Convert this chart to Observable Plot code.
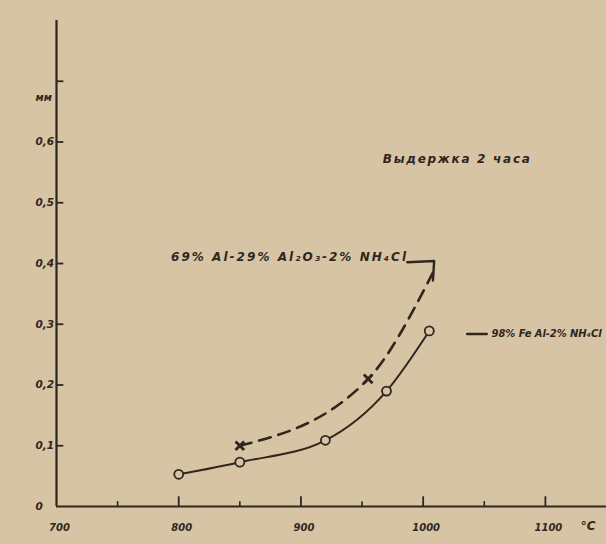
<!DOCTYPE html>
<html>
<head>
<meta charset="utf-8">
<script src="https://cdn.jsdelivr.net/npm/d3@7"></script>
<script src="https://cdn.jsdelivr.net/npm/@observablehq/plot@0.6"></script>
<style>
  html, body { margin: 0; padding: 0; background: #d6c4a5; }
  #chart svg { display: block; }
</style>
</head>
<body>
<div id="chart"></div>
<script>
// ---- data ----
const tempSolid  = [800, 850, 920, 970, 1005];          // °C, open circles
const depthSolid = [0.053, 0.073, 0.109, 0.19, 0.289];  // mm
const tempDashed  = [850, 955, 1008];                   // °C, dashed curve (x markers on first two)
const depthDashed = [0.10, 0.21, 0.385];                // mm
const markedDashed = 2;                                  // number of "x" markers
const leaderT = [987, 1009, 1008];                       // leader arrow for dashed label
const leaderD = [0.402, 0.404, 0.372];
const leaderSolidT = [1036, 1052];                       // leader dash for solid label
const leaderSolidD = [0.284, 0.284];
const xMajor = [800, 900, 1000, 1100];
const xMinor = [750, 850, 950, 1050];
const xLabels = [700, 800, 900, 1000, 1100];
const yTicks = [0.1, 0.2, 0.3, 0.4, 0.5, 0.6, 0.7];
const yLabels = [0, 0.1, 0.2, 0.3, 0.4, 0.5, 0.6];
const labelSolid = "98% Fe Al-2% NH₄Cl";
const labelDashed = "69% Al-29% Al₂O₃-2% NH₄Cl";
const labelTitle = "Выдержка 2 часа";
const unitY = "мм";
const unitX = "°C";

const bg = "#d6c4a5";
const ink = "#2f261e";
const font = "'DejaVu Sans', sans-serif";

const solid = tempSolid.map((t, i) => ({t, d: depthSolid[i]}));
const dashed = tempDashed.map((t, i) => ({t, d: depthDashed[i]}));
const leader = leaderT.map((t, i) => ({t, d: leaderD[i]}));
const leaderSolid = leaderSolidT.map((t, i) => ({t, d: leaderSolidD[i]}));

const txt = {fill: ink, fontWeight: "bold", fontStyle: "italic", fontFamily: font};

const chart = Plot.plot({
  width: 606,
  height: 544,
  marginLeft: 56,
  marginRight: 0,
  marginTop: 20,
  marginBottom: 38,
  style: {background: bg, fontFamily: font, color: ink, overflow: "visible"},
  x: {domain: [700, 1150], axis: null},
  y: {domain: [0, 0.8], axis: null},
  marks: [
    // axes lines
    Plot.ruleX([700], {y1: 0, y2: 0.8, stroke: ink, strokeWidth: 2.2}),
    Plot.ruleY([0], {x1: 700, x2: 1150, stroke: ink, strokeWidth: 2.2}),
    // inward ticks
    Plot.ruleX(xMajor, {x: d => d, y1: 0, y2: 0.016, stroke: ink, strokeWidth: 1.8}),
    Plot.ruleX(xMinor, {x: d => d, y1: 0, y2: 0.008, stroke: ink, strokeWidth: 1.6}),
    Plot.ruleY(yTicks, {y: d => d, x1: 700, x2: 706, stroke: ink, strokeWidth: 1.8}),
    // tick labels
    Plot.text(xLabels, {x: d => d, frameAnchor: "bottom", dy: 24, dx: 3, text: d => String(d), fontSize: 10, ...txt}),
    Plot.text([unitX], {x: 1135, frameAnchor: "bottom", dy: 23, text: d => d, fontSize: 12, ...txt}),
    Plot.text(yLabels, {y: d => d, frameAnchor: "left", dx: -21, text: d => d === 0 ? "0" : d.toFixed(1).replace(".", ","), fontSize: 10.5, ...txt}),
    Plot.text([unitY], {y: 0.7, frameAnchor: "left", dx: -21, dy: 17, text: d => d, fontSize: 10, ...txt}),
    // dashed curve
    Plot.line(dashed, {x: "t", y: "d", curve: "monotone-x", stroke: ink, strokeWidth: 2.6, strokeDasharray: "12,8"}),
    Plot.dot(dashed.slice(0, markedDashed), {x: "t", y: "d", symbol: "times", r: 4, stroke: ink, strokeWidth: 2.8}),
    Plot.line(leader, {x: "t", y: "d", stroke: ink, strokeWidth: 2.4}),
    // solid curve
    Plot.line(solid, {x: "t", y: "d", curve: "monotone-x", stroke: ink, strokeWidth: 2}),
    Plot.dot(solid, {x: "t", y: "d", r: 4.5, fill: bg, stroke: ink, strokeWidth: 1.8}),
    Plot.line(leaderSolid, {x: "t", y: "d", stroke: ink, strokeWidth: 2.4}),
    // annotations
    Plot.text([labelTitle], {x: 967, y: 0.572, text: d => d, textAnchor: "start", fontSize: 12, ...txt}),
    Plot.text([labelDashed], {x: 986, y: 0.41, text: d => d, textAnchor: "end", fontSize: 12, ...txt}),
    Plot.text([labelSolid], {x: 1056, y: 0.284, text: d => d, textAnchor: "start", fontSize: 10, ...txt})
  ]
});
// stretch the hand-lettered annotations to the widths seen in the scan
const widths = new Map([[labelTitle, 147], [labelDashed, 235], [labelSolid, 110]]);
d3.select(chart).selectAll("text").each(function() {
  const w = widths.get(this.textContent);
  if (w) d3.select(this).attr("textLength", w).attr("lengthAdjust", "spacing");
});
document.getElementById("chart").appendChild(chart);
</script>
</body>
</html>
